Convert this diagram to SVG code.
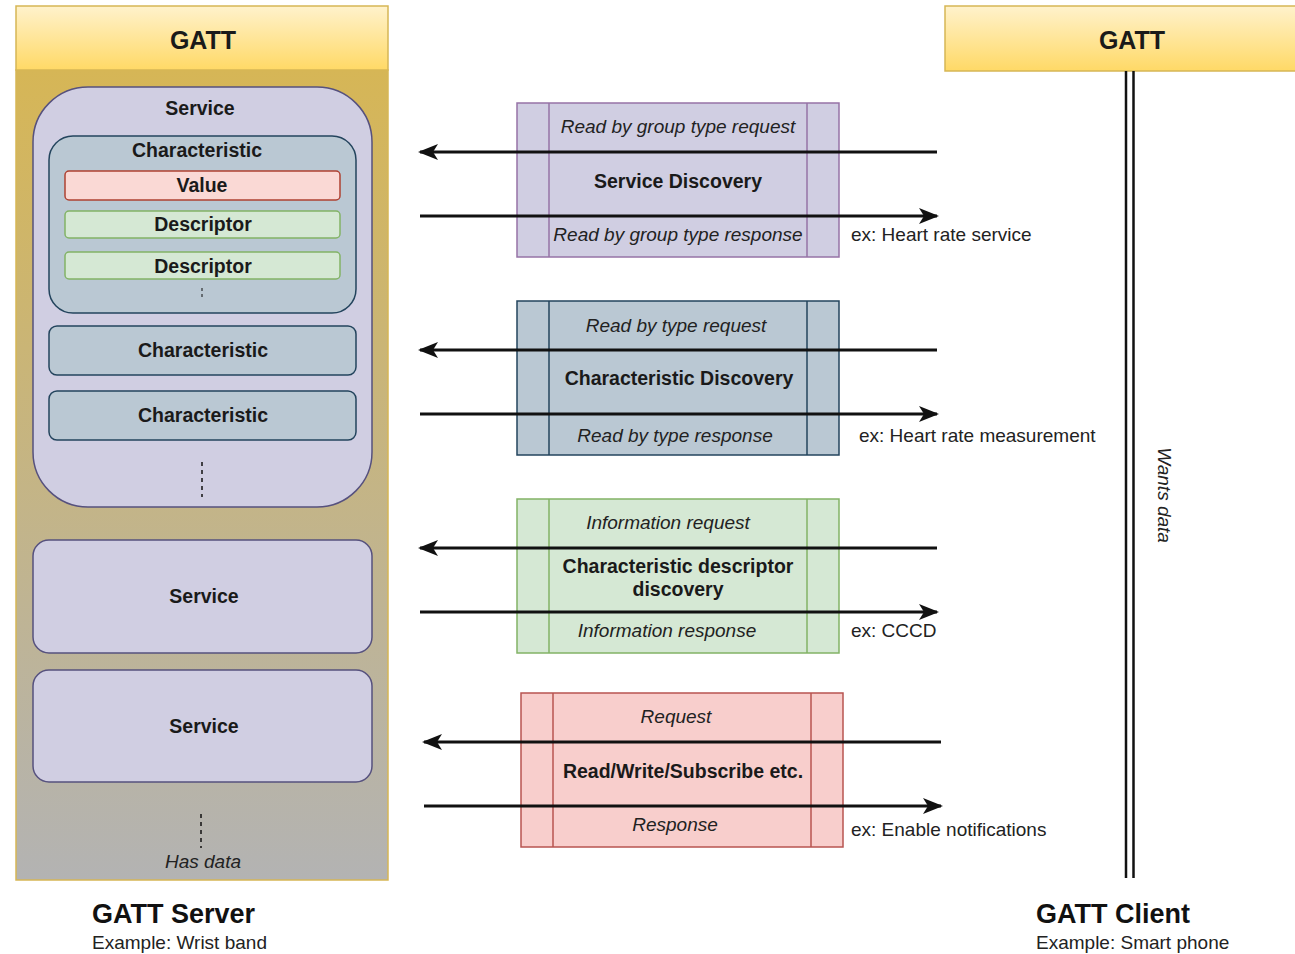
<svg xmlns="http://www.w3.org/2000/svg" width="1295" height="954" viewBox="0 0 1295 954">
<style>
text{font-family:"Liberation Sans",Arial,sans-serif;fill:#111;}
.b{font-weight:bold;font-size:19.5px;text-anchor:middle;fill:#1a1a1a;}
.i{font-style:italic;font-size:19px;text-anchor:middle;fill:#222;}
.n{font-size:19px;fill:#222;}
.svc{fill:#d0cee2;stroke:#56517e;stroke-width:1.5;}
.chr{fill:#bac8d3;stroke:#23445d;stroke-width:1.5;}
.grn{fill:#d5e8d4;stroke:#82b366;stroke-width:1.5;}
.red{fill:#fad9d5;stroke:#ae4132;stroke-width:1.5;}
.dash{stroke:#111;stroke-width:1.5;stroke-dasharray:4 4;fill:none;}
.arr{stroke:#111;stroke-width:3;fill:none;marker-end:url(#ah);}
</style>
<defs>
<linearGradient id="hdr" x1="0" y1="0" x2="0" y2="1"><stop offset="0" stop-color="#fff2cc"/><stop offset="1" stop-color="#ffd966"/></linearGradient>
<linearGradient id="body" x1="0" y1="0" x2="0" y2="1"><stop offset="0" stop-color="#d6b656"/><stop offset="1" stop-color="#b3b3b3"/></linearGradient>
<marker id="ah" viewBox="0 0 20 16" refX="18" refY="8" markerWidth="20" markerHeight="16" markerUnits="userSpaceOnUse" orient="auto"><path d="M0,0 L20,8 L0,16 L5,8 Z" fill="#111"/></marker>
</defs>
<rect width="1295" height="954" fill="#fff"/>

<g id="server">
<rect x="16" y="70" width="372" height="810" fill="url(#body)" stroke="#d6b656" stroke-width="1.5"/>
<rect x="16" y="6" width="372" height="64" fill="url(#hdr)" stroke="#d6b656" stroke-width="1.5"/>
<text class="b" x="203" y="49" style="font-size:25px">GATT</text>
</g>

<g id="service1">
<rect class="svc" x="33" y="87" width="339" height="420" rx="55"/>
<text class="b" x="200" y="115">Service</text>
</g>
<g id="characteristic1">
<rect class="chr" x="49" y="136" width="307" height="177" rx="24"/>
<text class="b" x="197" y="157">Characteristic</text>
<line class="dash" x1="202" y1="288" x2="202" y2="300" style="stroke-dasharray:3 3;stroke-width:1"/>
</g>
<g id="value">
<rect class="red" x="65" y="171" width="275" height="29" rx="4"/>
<text class="b" x="202" y="192">Value</text>
</g>
<g id="descriptor1">
<rect class="grn" x="65" y="211" width="275" height="27" rx="4"/>
<text class="b" x="203" y="231">Descriptor</text>
</g>
<g id="descriptor2">
<rect class="grn" x="65" y="252" width="275" height="27" rx="4"/>
<text class="b" x="203" y="273">Descriptor</text>
</g>
<g id="characteristic2">
<rect class="chr" x="49" y="326" width="307" height="49" rx="8"/>
<text class="b" x="203" y="357">Characteristic</text>
</g>
<g id="characteristic3">
<rect class="chr" x="49" y="391" width="307" height="49" rx="8"/>
<text class="b" x="203" y="422">Characteristic</text>
</g>
<line class="dash" x1="202" y1="462" x2="202" y2="497"/>
<g id="service2">
<rect class="svc" x="33" y="540" width="339" height="113" rx="16"/>
<text class="b" x="204" y="603">Service</text>
</g>
<g id="service3">
<rect class="svc" x="33" y="670" width="339" height="112" rx="16"/>
<text class="b" x="204" y="733">Service</text>
</g>
<line class="dash" x1="201" y1="814" x2="201" y2="848"/>
<text class="i" x="203" y="868">Has data</text>

<g id="server-label">
<text x="92" y="923" style="font-weight:bold;font-size:27px">GATT Server</text>
<text class="n" x="92" y="949">Example: Wrist band</text>
</g>

<g id="client">
<rect x="945" y="6" width="374" height="65" fill="url(#hdr)" stroke="#d6b656" stroke-width="1.5"/>
<text class="b" x="1132" y="49" style="font-size:25px">GATT</text>
<line x1="1126" y1="71" x2="1126" y2="878" stroke="#111" stroke-width="2.5"/>
<line x1="1133.5" y1="71" x2="1133.5" y2="878" stroke="#111" stroke-width="2.5"/>
<text class="i" transform="translate(1158 495) rotate(90)" x="0" y="0">Wants data</text>
</g>
<g id="client-label">
<text x="1036" y="923" style="font-weight:bold;font-size:27px">GATT Client</text>
<text class="n" x="1036" y="949">Example: Smart phone</text>
</g>

<g id="svc-discovery">
<rect x="517" y="103" width="322" height="154" fill="#d0cee2" stroke="#9673a6" stroke-width="1.5"/>
<line x1="549" y1="103" x2="549" y2="257" stroke="#9673a6" stroke-width="1.5"/>
<line x1="807" y1="103" x2="807" y2="257" stroke="#9673a6" stroke-width="1.5"/>
<text class="i" x="678" y="133">Read by group type request</text>
<text class="b" x="678" y="188">Service Discovery</text>
<text class="i" x="678" y="241">Read by group type response</text>
</g>
<g id="chr-discovery">
<rect x="517" y="301" width="322" height="154" fill="#bac8d3" stroke="#23445d" stroke-width="1.5"/>
<line x1="549" y1="301" x2="549" y2="455" stroke="#23445d" stroke-width="1.5"/>
<line x1="807" y1="301" x2="807" y2="455" stroke="#23445d" stroke-width="1.5"/>
<text class="i" x="676" y="332">Read by type request</text>
<text class="b" x="679" y="385">Characteristic Discovery</text>
<text class="i" x="675" y="442">Read by type response</text>
</g>
<g id="desc-discovery">
<rect x="517" y="499" width="322" height="154" fill="#d5e8d4" stroke="#82b366" stroke-width="1.5"/>
<line x1="549" y1="499" x2="549" y2="653" stroke="#82b366" stroke-width="1.5"/>
<line x1="807" y1="499" x2="807" y2="653" stroke="#82b366" stroke-width="1.5"/>
<text class="i" x="668" y="529">Information request</text>
<text class="b" x="678" y="573">Characteristic descriptor</text>
<text class="b" x="678" y="596">discovery</text>
<text class="i" x="667" y="637">Information response</text>
</g>
<g id="rw">
<rect x="521" y="693" width="322" height="154" fill="#f8cecc" stroke="#b85450" stroke-width="1.5"/>
<line x1="553" y1="693" x2="553" y2="847" stroke="#b85450" stroke-width="1.5"/>
<line x1="811" y1="693" x2="811" y2="847" stroke="#b85450" stroke-width="1.5"/>
<text class="i" x="676" y="723">Request</text>
<text class="b" x="683" y="778">Read/Write/Subscribe etc.</text>
<text class="i" x="675" y="831">Response</text>
</g>

<g id="connectors">
<line class="arr" x1="937" y1="152" x2="420" y2="152"/>
<line class="arr" x1="420" y1="216" x2="937" y2="216"/>
<line class="arr" x1="937" y1="350" x2="420" y2="350"/>
<line class="arr" x1="420" y1="414" x2="937" y2="414"/>
<line class="arr" x1="937" y1="548" x2="420" y2="548"/>
<line class="arr" x1="420" y1="612" x2="937" y2="612"/>
<line class="arr" x1="941" y1="742" x2="424" y2="742"/>
<line class="arr" x1="424" y1="806" x2="941" y2="806"/>
</g>

<g id="examples">
<text class="n" x="851" y="241">ex: Heart rate service</text>
<text class="n" x="859" y="442">ex: Heart rate measurement</text>
<text class="n" x="851" y="637">ex: CCCD</text>
<text class="n" x="851" y="836">ex: Enable notifications</text>
</g>
</svg>
